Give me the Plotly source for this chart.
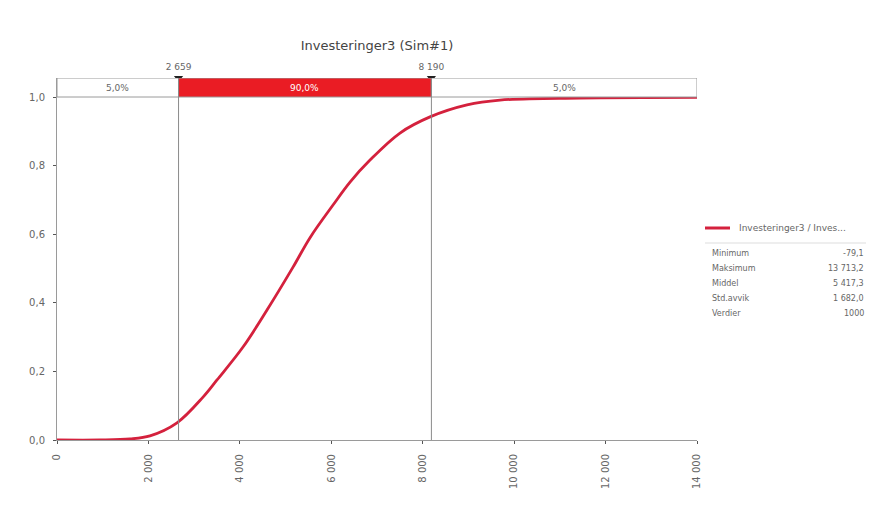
import plotly.graph_objects as go

# ---- data ----
title_text = "Investeringer3 (Sim#1)"
cdf_x = [0, 941, 1597, 2034, 2625, 3194, 3500, 4069, 4594, 5163, 5535, 6038,
         6410, 6847, 7503, 8160, 8969, 9691, 11441, 14000]
cdf_y = [0.0, 0.0, 0.003, 0.012, 0.05, 0.125, 0.175, 0.271, 0.379, 0.504, 0.59, 0.685,
         0.752, 0.816, 0.895, 0.942, 0.977, 0.991, 0.997, 0.999]
x_min, x_max = 0, 14000
lower_mark, upper_mark = 2659, 8190
mark_labels = ["2 659", "8 190"]
strip_labels = ["5,0%", "90,0%", "5,0%"]
x_tickvals = [0, 2000, 4000, 6000, 8000, 10000, 12000, 14000]
x_ticktext = ["0", "2 000", "4 000", "6 000", "8 000", "10 000", "12 000", "14 000"]
y_tickvals = [0.0, 0.2, 0.4, 0.6, 0.8, 1.0]
y_ticktext = ["0,0", "0,2", "0,4", "0,6", "0,8", "1,0"]
legend_name = "Investeringer3 / Inves..."
stat_names = ["Minimum", "Maksimum", "Middel", "Std.avvik", "Verdier"]
stat_values = ["-79,1", "13 713,2", "5 417,3", "1 682,0", "1000"]

TOP = 1.0554  # strip sits above 1.0
RED = "#d4213d"
STRIP_RED = "#ea1c24"
GRAY = "#9a9a9a"
TXT = "#666666"

fig = go.Figure()
fig.add_trace(go.Scatter(x=cdf_x, y=cdf_y, mode="lines", line=dict(color=RED, width=2.8, shape="spline"),
                         showlegend=False, hoverinfo="skip"))
fig.add_trace(go.Scatter(x=[lower_mark, upper_mark], y=[TOP, TOP], mode="markers+text",
                         marker=dict(symbol="triangle-down", size=8, color="#222222"),
                         text=mark_labels, textposition="top center",
                         textfont=dict(size=9, color=TXT), cliponaxis=False,
                         showlegend=False, hoverinfo="skip"))

shapes = []
segs = [(x_min, lower_mark, "white"), (lower_mark, upper_mark, STRIP_RED), (upper_mark, x_max, "white")]
for (a, b, c), lab in zip(segs, strip_labels):
    shapes.append(dict(type="rect", xref="x", yref="y", x0=a, x1=b, y0=1.0, y1=TOP,
                       fillcolor=c, line=dict(color=GRAY, width=1), layer="above"))
for m in [lower_mark, upper_mark]:
    shapes.append(dict(type="line", xref="x", yref="y", x0=m, x1=m, y0=0, y1=TOP,
                       line=dict(color="#8a8a8a", width=1)))

annotations = []
for (a, b, c), lab in zip(segs, strip_labels):
    annotations.append(dict(x=(a + b) / 2, y=(1.0 + TOP) / 2, xref="x", yref="y", text=lab,
                            showarrow=False, font=dict(size=9, color="white" if c != "white" else TXT)))

lx0 = (705 - 57) / 640
lx_text = (737 - 57) / 640
lx_right = (866 - 57) / 640
def py(p):
    return (440 - p) / 362

shapes.append(dict(type="line", xref="paper", yref="paper", x0=lx0, x1=(730 - 57) / 640,
                   y0=py(228), y1=py(228), line=dict(color=RED, width=3)))
annotations.append(dict(x=lx_text, y=py(228), xref="paper", yref="paper", text=legend_name,
                        showarrow=False, xanchor="left", font=dict(size=9, color=TXT)))
shapes.append(dict(type="line", xref="paper", yref="paper", x0=lx0, x1=lx_right,
                   y0=py(243), y1=py(243), line=dict(color="#dddddd", width=1)))
for i, (n, v) in enumerate(zip(stat_names, stat_values)):
    yy = py(253 + 15 * i)
    annotations.append(dict(x=(710 - 57) / 640, y=yy, xref="paper", yref="paper", text=n,
                            showarrow=False, xanchor="left", font=dict(size=8, color=TXT)))
    annotations.append(dict(x=lx_right, y=yy, xref="paper", yref="paper", text=v,
                            showarrow=False, xanchor="right", font=dict(size=8, color=TXT)))

fig.update_layout(
    width=895, height=521,
    margin=dict(l=49, r=206, t=70, b=89),
    paper_bgcolor="white", plot_bgcolor="white",
    font=dict(family="DejaVu Sans, sans-serif", size=9, color=TXT),
    title=dict(text=title_text, x=369 / 895, xanchor="center", y=1 - 37 / 521, yanchor="middle",
               font=dict(size=13, color="#444444")),
    xaxis=dict(range=[x_min, x_max], tickvals=x_tickvals, ticktext=x_ticktext, tickangle=-90,
               showgrid=False, zeroline=False, showline=True, linecolor=GRAY, linewidth=1,
               ticks="outside", ticklen=3, tickcolor="#555555", tickfont=dict(size=10, color=TXT),
               ticklabelstandoff=6),
    yaxis=dict(range=[0, TOP], tickvals=y_tickvals, ticktext=y_ticktext,
               showgrid=False, zeroline=False, showline=True, linecolor=GRAY, linewidth=1,
               ticks="outside", ticklen=3, tickcolor="#555555", tickfont=dict(size=10, color=TXT),
               ticklabelstandoff=6),
    shapes=shapes, annotations=annotations,
)
fig.write_html("out.html")
